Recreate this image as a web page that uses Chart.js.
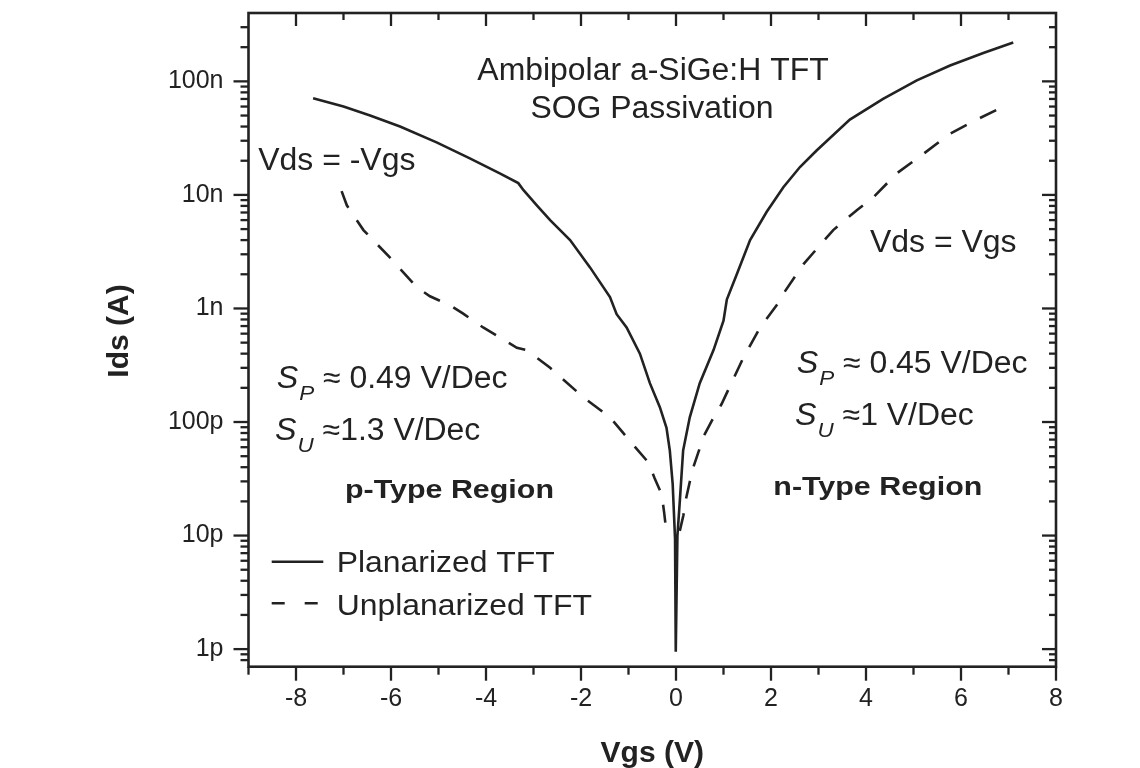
<!DOCTYPE html>
<html>
<head>
<meta charset="utf-8">
<script src="https://cdn.jsdelivr.net/npm/chart.js@4.4.1/dist/chart.umd.min.js"></script>
<style>
  html, body { margin: 0; padding: 0; background: #ffffff; }
  #wrap { width: 1140px; height: 768px; }
</style>
</head>
<body>
<div id="wrap"><canvas id="c" width="1140" height="768"></canvas></div>
<script>
// ---------------- data ----------------
const seriesNames = ['Planarized TFT', 'Unplanarized TFT'];

const vgsPlanar = [-7.64, -7.00, -6.44, -5.81, -5.04, -4.34, -3.71, -3.32, -3.21, -2.93, -2.65, -2.23, -1.81, -1.39,
  -1.25, -1.04, -0.76, -0.55, -0.34, -0.20, -0.13, -0.07, -0.02, -0.005, 0.03, 0.08, 0.15, 0.29, 0.50, 0.79, 1.00,
  1.07, 1.28, 1.56, 1.91, 2.26, 2.61, 2.96, 3.66, 4.36, 5.07, 5.77, 6.47, 7.10];
const idsPlanar = [7.1e-8, 6.0e-8, 5.0e-8, 4.0e-8, 2.9e-8, 2.1e-8, 1.55e-8, 1.27e-8, 1.1e-8, 8.1e-9, 6.0e-9, 4.0e-9, 2.3e-9, 1.26e-9,
  8.9e-10, 6.8e-10, 4.0e-10, 2.2e-10, 1.35e-10, 8.9e-11, 5.6e-11, 2.85e-11, 9.3e-12, 9.5e-13, 1.0e-11, 2.0e-11, 5.6e-11, 1.1e-10, 2.2e-10, 4.3e-10, 7.8e-10,
  1.2e-9, 2.0e-9, 4.0e-9, 7.1e-9, 1.17e-8, 1.76e-8, 2.46e-8, 4.6e-8, 7.0e-8, 1.02e-7, 1.38e-7, 1.78e-7, 2.2e-7];

const vgsUnplanar = [-7.04, -6.93, -6.58, -6.02, -5.46, -5.18, -4.76, -4.48, -4.06, -3.35, -3.14, -2.65, -1.95, -1.39,
  -0.86, -0.58, -0.45, -0.30, -0.25, -0.21, 0.0, 0.08, 0.155, 0.21, 0.28, 0.365, 0.47, 0.59, 0.75, 0.96, 1.10,
  1.42, 1.77, 2.19, 2.26, 2.68, 3.31, 3.80, 4.15, 4.65, 5.21, 5.77, 6.33, 6.75];
const idsUnplanar = [1.08e-8, 8.1e-9, 4.9e-9, 2.8e-9, 1.54e-9, 1.28e-9, 1.07e-9, 9.0e-10, 6.8e-10, 4.5e-10, 4.3e-10, 3.0e-10, 1.65e-10, 1.1e-10,
  6.0e-11, 4.4e-11, 3.2e-11, 2.3e-11, 1.6e-11, 1.15e-11, null, 1.1e-11, 1.5e-11, 2.1e-11, 2.85e-11, 4.0e-11, 5.4e-11, 7.6e-11, 1.02e-10, 1.44e-10, 1.92e-10,
  3.7e-10, 6.8e-10, 1.17e-9, 1.35e-9, 2.45e-9, 4.9e-9, 7.3e-9, 9.5e-9, 1.55e-8, 2.3e-8, 3.46e-8, 4.6e-8, 5.6e-8];

const xTickValues = [-8, -6, -4, -2, 0, 2, 4, 6, 8];
const yTickValues = [1e-12, 1e-11, 1e-10, 1e-9, 1e-8, 1e-7];
const yTickLabels = ['1p', '10p', '100p', '1n', '10n', '100n'];

// ---------------- styling ----------------
const INK = '#222222';
const FONT = "'Liberation Sans', Arial, Helvetica, sans-serif";

function drawText(ctx, s, x, y, font, sx, align) {
  ctx.save();
  ctx.font = font;
  ctx.fillStyle = INK;
  ctx.textBaseline = 'alphabetic';
  ctx.textAlign = 'left';
  const w = ctx.measureText(s).width * sx;
  const x0 = align === 'center' ? x - w / 2 : (align === 'right' ? x - w : x);
  ctx.translate(x0, y);
  ctx.scale(sx, 1);
  ctx.fillText(s, 0, 0);
  ctx.restore();
  return w;
}

function slopeLabel(ctx, x, y, sub, rest) {
  let cx = x;
  cx += drawText(ctx, 'S', cx, y, 'italic 31px ' + FONT, 1.04, 'left');
  cx += drawText(ctx, sub, cx + 1, y + 12, 'italic 21px ' + FONT, 1.07, 'left') + 1;
  drawText(ctx, rest, cx, y, '31px ' + FONT, 1.03, 'left');
}

const framePlugin = {
  id: 'frame',
  afterDraw(chart) {
    const ctx = chart.ctx;
    const ca = chart.chartArea;
    const xs = chart.scales.x, ys = chart.scales.y;
    ctx.save();
    ctx.strokeStyle = INK;
    ctx.lineCap = 'butt';

    // frame
    ctx.lineWidth = 2.6;
    ctx.strokeRect(ca.left, ca.top, ca.right - ca.left, ca.bottom - ca.top);

    // x ticks (majors from tick list, minors at the other integers)
    ctx.lineWidth = 2.3;
    const line = (x1, y1, x2, y2) => { ctx.beginPath(); ctx.moveTo(x1, y1); ctx.lineTo(x2, y2); ctx.stroke(); };
    for (let v = Math.ceil(xs.min); v <= Math.floor(xs.max); v++) {
      const major = xTickValues.includes(v);
      const px = xs.getPixelForValue(v);
      line(px, ca.bottom, px, ca.bottom + (major ? 14 : 8));
      if (px > ca.left + 1 && px < ca.right - 1) line(px, ca.top, px, ca.top + (major ? 13 : 7));
    }
    // y ticks (decades major, 2..9 minor)
    const lo = Math.floor(Math.log10(ys.min)), hi = Math.ceil(Math.log10(ys.max));
    for (let e = lo; e <= hi; e++) {
      for (let k = 1; k <= 9; k++) {
        const v = k * Math.pow(10, e);
        if (v < ys.min * 0.999 || v > ys.max * 1.001) continue;
        const py = ys.getPixelForValue(v);
        if (py < ca.top + 1 || py > ca.bottom - 1) continue;
        const major = k === 1;
        line(ca.left, py, ca.left - (major ? 15 : 8), py);
        line(ca.right, py, ca.right - (major ? 14 : 7), py);
      }
    }

    // legend
    const ds = chart.data.datasets;
    ctx.lineWidth = ds[0].borderWidth;
    ctx.strokeStyle = ds[0].borderColor;
    ctx.setLineDash([]);
    line(271.7, 561.7, 323.3, 561.7);
    ctx.setLineDash([13, 20]);
    line(271.7, 603.3, 318.5, 603.3);
    ctx.setLineDash([]);
    drawText(ctx, seriesNames[0], 336.7, 571.7, '29px ' + FONT, 1.1, 'left');
    drawText(ctx, seriesNames[1], 336.7, 614.5, '29px ' + FONT, 1.1, 'left');

    // annotations
    drawText(ctx, 'Ambipolar a-SiGe:H TFT', 653, 79.5, '31px ' + FONT, 1.03, 'center');
    drawText(ctx, 'SOG Passivation', 652, 118.3, '31px ' + FONT, 1.03, 'center');
    drawText(ctx, 'Vds = -Vgs', 258.3, 170, '31px ' + FONT, 1.03, 'left');
    drawText(ctx, 'Vds = Vgs', 870, 251.7, '31px ' + FONT, 1.03, 'left');
    slopeLabel(ctx, 276.7, 388.3, 'P', ' \u2248 0.49 V/Dec');
    slopeLabel(ctx, 275, 440, 'U', ' \u22481.3 V/Dec');
    slopeLabel(ctx, 796.7, 373.3, 'P', ' \u2248 0.45 V/Dec');
    slopeLabel(ctx, 795, 425, 'U', ' \u22481 V/Dec');
    drawText(ctx, 'p-Type Region', 345, 498.3, 'bold 26px ' + FONT, 1.17, 'left');
    drawText(ctx, 'n-Type Region', 773.3, 495, 'bold 26px ' + FONT, 1.17, 'left');

    // axis titles
    drawText(ctx, 'Vgs (V)', (ca.left + ca.right) / 2, 761.7, 'bold 30px ' + FONT, 1.0, 'center');
    ctx.save();
    ctx.translate(128, 331);
    ctx.rotate(-Math.PI / 2);
    drawText(ctx, 'Ids (A)', 0, 0, 'bold 30px ' + FONT, 1.0, 'center');
    ctx.restore();

    ctx.restore();
  }
};

const toPoints = (xs, ys) => xs.map((x, i) => ({ x: x, y: ys[i] }));

new Chart(document.getElementById('c'), {
  type: 'line',
  data: {
    datasets: [
      {
        label: seriesNames[0],
        data: toPoints(vgsPlanar, idsPlanar),
        borderColor: INK, borderWidth: 2.6, pointRadius: 0, fill: false, tension: 0
      },
      {
        label: seriesNames[1],
        data: toPoints(vgsUnplanar, idsUnplanar),
        borderColor: INK, borderWidth: 2.6, borderDash: [18, 15], pointRadius: 0, fill: false, tension: 0,
        spanGaps: false
      }
    ]
  },
  options: {
    responsive: false,
    animation: false,
    events: [],
    layout: { padding: { left: 0, top: 13, right: 84, bottom: 0 } },
    plugins: { legend: { display: false }, tooltip: { enabled: false } },
    scales: {
      x: {
        type: 'linear', min: -9, max: 8,
        grid: { display: false, drawTicks: false },
        border: { display: false },
        afterBuildTicks: s => { s.ticks = xTickValues.map(v => ({ value: v })); },
        afterFit: s => { s.height = 101.3; s.paddingLeft = 0; s.paddingRight = 0; },
        ticks: {
          font: { family: FONT, size: 25 }, color: INK, padding: 17,
          maxRotation: 0, autoSkip: false,
          callback: v => String(v)
        }
      },
      y: {
        type: 'logarithmic', min: 7e-13, max: 4e-7,
        grid: { display: false, drawTicks: false },
        border: { display: false },
        afterBuildTicks: s => { s.ticks = yTickValues.map(v => ({ value: v })); },
        afterFit: s => { s.width = 248.5; s.paddingTop = 0; s.paddingBottom = 0; },
        ticks: {
          font: { family: FONT, size: 25 }, color: INK, padding: 25,
          autoSkip: false,
          callback: (v, i) => yTickLabels[i]
        }
      }
    }
  },
  plugins: [framePlugin]
});
</script>
</body>
</html>
